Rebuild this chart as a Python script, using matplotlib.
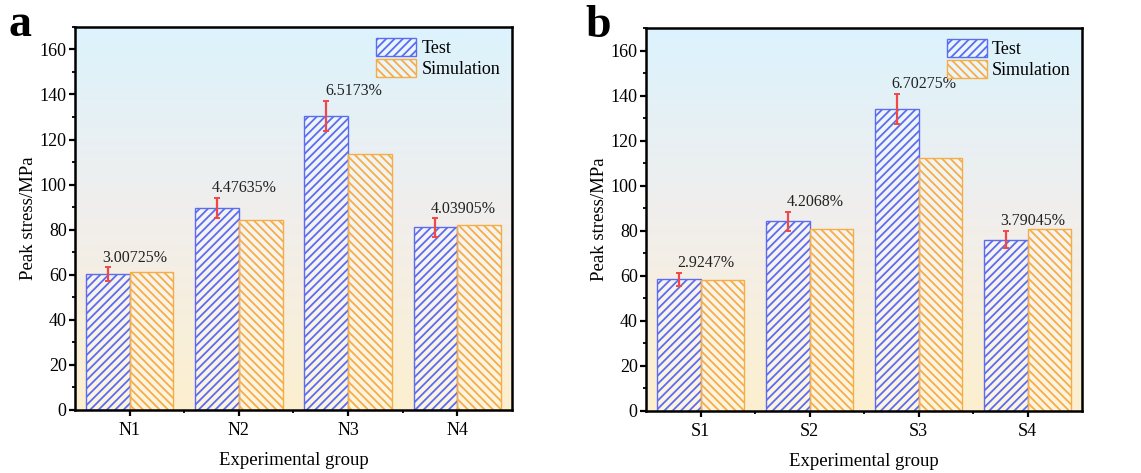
import numpy as np
import matplotlib
matplotlib.use("Agg")
import matplotlib.pyplot as plt
from matplotlib.colors import LinearSegmentedColormap
from matplotlib.patches import Patch
from matplotlib.ticker import MultipleLocator, FixedLocator

plt.rcParams['font.family'] = ['Liberation Serif', 'DejaVu Serif']
plt.rcParams['hatch.linewidth'] = 1.3

# Peak stress data
groups_n = ["N1", "N2", "N3", "N4"]
test_n = [60.3, 89.5, 130.5, 81.0]
sim_n = [61.2, 84.2, 113.7, 82.0]
err_n = [3.00725, 4.47635, 6.5173, 4.03905]
labels_n = ["3.00725%", "4.47635%", "6.5173%", "4.03905%"]

groups_s = ["S1", "S2", "S3", "S4"]
test_s = [58.5, 84.2, 134.2, 76.0]
sim_s = [58.3, 81.0, 112.2, 80.8]
err_s = [2.9247, 4.2068, 6.70275, 3.79045]
labels_s = ["2.9247%", "4.2068%", "6.70275%", "3.79045%"]

BLUE = "#5b6cf0"
ORANGE = "#f6ad45"
RED = "#f04848"

bg_cmap = LinearSegmentedColormap.from_list(
    "bg", ["#fdf0cf", "#f1eeec", "#dcf3fd"])

fig = plt.figure(figsize=(11.41, 4.73), dpi=100)
ax_a = fig.add_axes([0.0657, 0.1332, 0.383, 0.81])
ax_b = fig.add_axes([0.5662, 0.1311, 0.3821, 0.8097])


def draw_panel(ax, groups, test, sim, err, labels, letter, letter_x):
    x = np.arange(1, len(groups) + 1)
    w = 0.4
    grad = np.linspace(0, 1, 256).reshape(-1, 1)
    ax.imshow(grad, extent=[0, 1, 0, 1], transform=ax.transAxes,
              cmap=bg_cmap, origin="lower", aspect="auto", zorder=0)
    ax.bar(x - w / 2, test, w, facecolor=(1, 1, 1, 0.35), edgecolor=BLUE,
           hatch="////", linewidth=1.0, zorder=2)
    ax.bar(x + w / 2, sim, w, facecolor=(1, 1, 1, 0.35), edgecolor=ORANGE,
           hatch="\\\\\\\\", linewidth=1.0, zorder=2)
    ax.errorbar(x - w / 2, test, yerr=err, fmt="none", ecolor=RED,
                elinewidth=1.6, capsize=2.5, capthick=1.4, zorder=3)
    for xi, t, e, lab in zip(x, test, err, labels):
        ax.text(xi + 0.05, t + e + 0.8, lab, ha="center", va="bottom",
                fontsize=11.5, color="#222222", zorder=4)

    ax.set_xlim(0.5, 4.5)
    ax.set_ylim(0, 170)
    ax.set_xticks(x)
    ax.set_xticklabels(groups)
    ax.xaxis.set_minor_locator(FixedLocator([1.5, 2.5, 3.5]))
    ax.yaxis.set_major_locator(FixedLocator(np.arange(0, 161, 20)))
    ax.yaxis.set_minor_locator(MultipleLocator(10))
    ax.tick_params(axis="both", which="major", labelsize=13, length=4,
                   width=1.6, direction="out", pad=5, color="black")
    ax.tick_params(axis="both", which="minor", length=2.5, width=1.3,
                   direction="out")
    ax.tick_params(axis="y", pad=2)
    for sp in ax.spines.values():
        sp.set_linewidth(1.8)
    ax.set_ylabel("Peak stress/MPa", fontsize=13.5, labelpad=2)
    ax.set_xlabel("Experimental group", fontsize=13.5, labelpad=9)

    handles = [Patch(facecolor=(1, 1, 1, 0.35), edgecolor=BLUE, hatch="////",
                     linewidth=1.0, label="Test"),
               Patch(facecolor=(1, 1, 1, 0.35), edgecolor=ORANGE,
                     hatch="\\\\\\\\", linewidth=1.0, label="Simulation")]
    ax.legend(handles=handles, loc="upper left", bbox_to_anchor=(0.69, 0.972),
              frameon=False, fontsize=13, handlelength=2.2,
              handleheight=1.2, labelspacing=0.1, handletextpad=0.3,
              borderaxespad=0.0, borderpad=0.0)
    ax.text(letter_x, 0.976, letter, transform=ax.transAxes, fontsize=33,
            fontweight="bold", ha="left", va="baseline")


draw_panel(ax_a, groups_n, test_n, sim_n, err_n, labels_n, "a", -0.153)
draw_panel(ax_b, groups_s, test_s, sim_s, err_s, labels_s, "b", -0.14)

fig.savefig("out.png", dpi=100)
